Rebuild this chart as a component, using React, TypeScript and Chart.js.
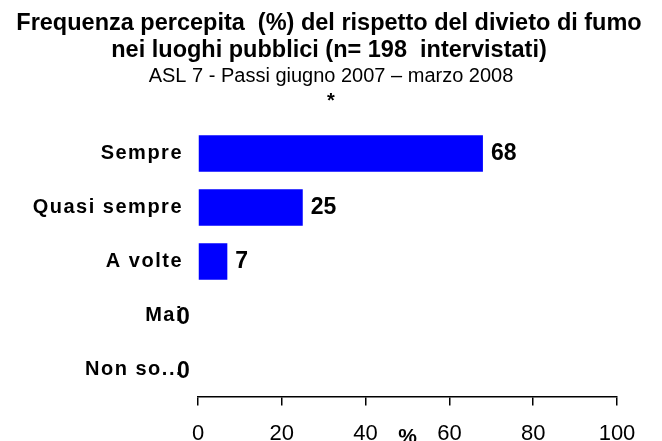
import React, { useEffect, useRef } from "react";
import { Chart, registerables } from "chart.js";

Chart.register(...registerables);

const titleLines = [
  "Frequenza percepita  (%) del rispetto del divieto di fumo",
  "nei luoghi pubblici (n= 198  intervistati)",
];
const subtitleLines = ["ASL 7 - Passi giugno 2007 \u2013 marzo 2008", "*"];
const categories = ["Sempre", "Quasi sempre", "A volte", "Mai", "Non so..."];
const values = [68, 25, 7, 0, 0];
const xTicks = [0, 20, 40, 60, 80, 100];
const xAxisLabel = "%";

const FONT = "'Liberation Sans', Arial, sans-serif";

const textPlugin = {
  id: "texts",
  afterDraw(chart: any) {
    const ctx = chart.ctx;
    const cx = chart.width / 2;
    ctx.save();
    ctx.fillStyle = "#000";
    ctx.textAlign = "center";
    ctx.textBaseline = "alphabetic";
    ctx.font = `bold 23.5px ${FONT}`;
    ctx.fillText(titleLines[0], cx - 2, 30);
    ctx.fillText(titleLines[1], cx - 2, 57);
    ctx.font = `20px ${FONT}`;
    ctx.fillText(subtitleLines[0], cx, 82);
    ctx.font = `bold 20px ${FONT}`;
    ctx.fillText(subtitleLines[1], cx, 107);

    // value labels
    const meta = chart.getDatasetMeta(0);
    ctx.font = `bold 23px ${FONT}`;
    ctx.textBaseline = "middle";
    ctx.textAlign = "left";
    meta.data.forEach((bar: any, i: number) => {
      const v = values[i];
      const x = v === 0 ? bar.x - 21 : bar.x + 8;
      const y = v === 0 ? bar.y + 2 : bar.y;
      ctx.fillText(String(v), x, y);
    });

    // axis label "%" placed between tick labels
    const xs = chart.scales.x;
    ctx.font = `bold 21px ${FONT}`;
    ctx.textAlign = "center";
    ctx.fillText(xAxisLabel, (xs.left + xs.right) / 2, 437);
    ctx.restore();
  },
};

export default function App() {
  const ref = useRef<HTMLCanvasElement | null>(null);
  useEffect(() => {
    if (!ref.current) return;
    const chart = new Chart(ref.current, {
      type: "bar",
      data: {
        labels: categories,
        datasets: [
          {
            data: values,
            backgroundColor: "#0000FF",
            borderWidth: 0,
            barPercentage: 0.68,
            categoryPercentage: 1,
          },
        ],
      },
      options: {
        indexAxis: "y",
        responsive: false,
        animation: false,
        layout: { padding: { left: 0, right: 45, top: 126.5, bottom: 0 } },
        plugins: {
          legend: { display: false },
          tooltip: { enabled: false },
          title: { display: false },
        },
        scales: {
          x: {
            min: 0,
            max: 100,
            afterBuildTicks: (scale: any) => {
              scale.ticks = xTicks.map((v) => ({ value: v }));
            },
            afterFit: (scale: any) => {
              scale.height = 44.5;
            },
            grid: {
              drawOnChartArea: false,
              drawTicks: true,
              tickLength: 9,
              color: "#000",
              lineWidth: 1.5,
            },
            border: { display: true, color: "#000", width: 1.5 },
            ticks: {
              color: "#000",
              font: { family: FONT, size: 22 },
              padding: 15,
              maxRotation: 0,
            },
          },
          y: {
            afterFit: (scale: any) => {
              scale.width = 198;
            },
            afterUpdate: (scale: any) => {
              if (!scale.__spaced) {
                const orig = scale.drawLabels.bind(scale);
                scale.drawLabels = (area: any) => {
                  const ctx = scale.ctx;
                  ctx.save();
                  ctx.letterSpacing = "1.5px";
                  orig(area);
                  ctx.restore();
                };
                scale.__spaced = true;
              }
            },
            grid: { display: false },
            border: { display: false },
            ticks: {
              color: "#000",
              font: { family: FONT, size: 20, weight: "bold" },
              padding: 7,
            },
          },
        },
      },
      plugins: [textPlugin],
    });
    return () => chart.destroy();
  }, []);
  return (
    <div style={{ position: "fixed", left: 0, top: 0, width: 662, height: 441, background: "#fff" }}>
      <canvas ref={ref} width={662} height={441} style={{ display: "block" }} />
    </div>
  );
}
